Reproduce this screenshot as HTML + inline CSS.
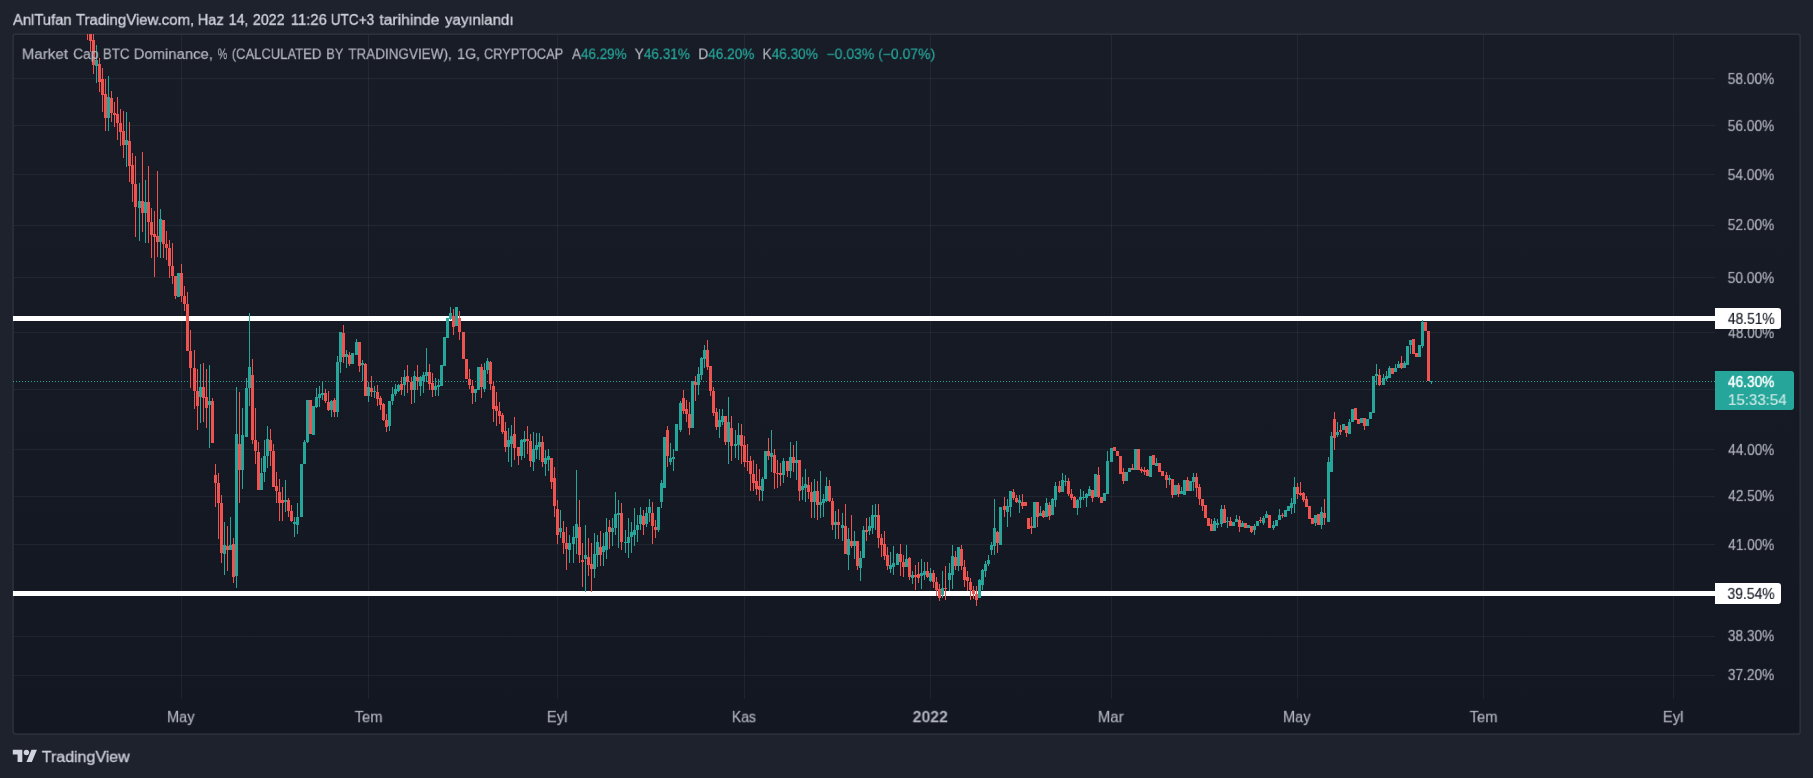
<!DOCTYPE html>
<html lang="tr"><head><meta charset="utf-8"><title>BTC Dominance</title>
<style>html,body{margin:0;padding:0;}
body{width:1813px;height:778px;background:#1e222d;position:relative;overflow:hidden;font-family:"Liberation Sans",sans-serif;}
.t{will-change:transform;position:absolute;white-space:nowrap;transform-origin:0 0;line-height:1;font-size:16px;margin:0;padding:0;}
svg{position:absolute;left:0;top:0;}</style></head><body>
<svg width="1813" height="778" viewBox="0 0 1813 778"><defs><linearGradient id="bg" x1="0" y1="0" x2="0" y2="1"><stop offset="0" stop-color="#181c27"/><stop offset="1" stop-color="#131722"/></linearGradient></defs><rect x="13.1" y="34.1" width="1787.1" height="700" rx="2.5" fill="url(#bg)" stroke="#2b2f3a" stroke-width="1.75"/></svg>
<svg width="1813" height="778" viewBox="0 0 1813 778" shape-rendering="crispEdges">
<rect x="14" y="78" width="1701" height="1" fill="#f0f3fa" fill-opacity="0.06"/>
<rect x="14" y="125" width="1701" height="1" fill="#f0f3fa" fill-opacity="0.06"/>
<rect x="14" y="174" width="1701" height="1" fill="#f0f3fa" fill-opacity="0.06"/>
<rect x="14" y="225" width="1701" height="1" fill="#f0f3fa" fill-opacity="0.06"/>
<rect x="14" y="277" width="1701" height="1" fill="#f0f3fa" fill-opacity="0.06"/>
<rect x="14" y="332" width="1701" height="1" fill="#f0f3fa" fill-opacity="0.06"/>
<rect x="14" y="389" width="1701" height="1" fill="#f0f3fa" fill-opacity="0.06"/>
<rect x="14" y="449" width="1701" height="1" fill="#f0f3fa" fill-opacity="0.06"/>
<rect x="14" y="496" width="1701" height="1" fill="#f0f3fa" fill-opacity="0.06"/>
<rect x="14" y="544" width="1701" height="1" fill="#f0f3fa" fill-opacity="0.06"/>
<rect x="14" y="636" width="1701" height="1" fill="#f0f3fa" fill-opacity="0.06"/>
<rect x="14" y="675" width="1701" height="1" fill="#f0f3fa" fill-opacity="0.06"/>
<rect x="181" y="35" width="1" height="664" fill="#f0f3fa" fill-opacity="0.06"/>
<rect x="368" y="35" width="1" height="664" fill="#f0f3fa" fill-opacity="0.06"/>
<rect x="557" y="35" width="1" height="664" fill="#f0f3fa" fill-opacity="0.06"/>
<rect x="744" y="35" width="1" height="664" fill="#f0f3fa" fill-opacity="0.06"/>
<rect x="930" y="35" width="1" height="664" fill="#f0f3fa" fill-opacity="0.06"/>
<rect x="1111" y="35" width="1" height="664" fill="#f0f3fa" fill-opacity="0.06"/>
<rect x="1297" y="35" width="1" height="664" fill="#f0f3fa" fill-opacity="0.06"/>
<rect x="1483" y="35" width="1" height="664" fill="#f0f3fa" fill-opacity="0.06"/>
<rect x="1673" y="35" width="1" height="664" fill="#f0f3fa" fill-opacity="0.06"/>
<path d="M13 381h1M16 381h1M19 381h1M22 381h1M25 381h1M28 381h1M31 381h1M34 381h1M37 381h1M40 381h1M43 381h1M46 381h1M49 381h1M52 381h1M55 381h1M58 381h1M61 381h1M64 381h1M67 381h1M70 381h1M73 381h1M76 381h1M79 381h1M82 381h1M85 381h1M88 381h1M91 381h1M94 381h1M97 381h1M100 381h1M103 381h1M106 381h1M109 381h1M112 381h1M115 381h1M118 381h1M121 381h1M124 381h1M127 381h1M130 381h1M133 381h1M136 381h1M139 381h1M142 381h1M145 381h1M148 381h1M151 381h1M154 381h1M157 381h1M160 381h1M163 381h1M166 381h1M169 381h1M172 381h1M175 381h1M178 381h1M181 381h1M184 381h1M187 381h1M190 381h1M193 381h1M196 381h1M199 381h1M202 381h1M205 381h1M208 381h1M211 381h1M214 381h1M217 381h1M220 381h1M223 381h1M226 381h1M229 381h1M232 381h1M235 381h1M238 381h1M241 381h1M244 381h1M247 381h1M250 381h1M253 381h1M256 381h1M259 381h1M262 381h1M265 381h1M268 381h1M271 381h1M274 381h1M277 381h1M280 381h1M283 381h1M286 381h1M289 381h1M292 381h1M295 381h1M298 381h1M301 381h1M304 381h1M307 381h1M310 381h1M313 381h1M316 381h1M319 381h1M322 381h1M325 381h1M328 381h1M331 381h1M334 381h1M337 381h1M340 381h1M343 381h1M346 381h1M349 381h1M352 381h1M355 381h1M358 381h1M361 381h1M364 381h1M367 381h1M370 381h1M373 381h1M376 381h1M379 381h1M382 381h1M385 381h1M388 381h1M391 381h1M394 381h1M397 381h1M400 381h1M403 381h1M406 381h1M409 381h1M412 381h1M415 381h1M418 381h1M421 381h1M424 381h1M427 381h1M430 381h1M433 381h1M436 381h1M439 381h1M442 381h1M445 381h1M448 381h1M451 381h1M454 381h1M457 381h1M460 381h1M463 381h1M466 381h1M469 381h1M472 381h1M475 381h1M478 381h1M481 381h1M484 381h1M487 381h1M490 381h1M493 381h1M496 381h1M499 381h1M502 381h1M505 381h1M508 381h1M511 381h1M514 381h1M517 381h1M520 381h1M523 381h1M526 381h1M529 381h1M532 381h1M535 381h1M538 381h1M541 381h1M544 381h1M547 381h1M550 381h1M553 381h1M556 381h1M559 381h1M562 381h1M565 381h1M568 381h1M571 381h1M574 381h1M577 381h1M580 381h1M583 381h1M586 381h1M589 381h1M592 381h1M595 381h1M598 381h1M601 381h1M604 381h1M607 381h1M610 381h1M613 381h1M616 381h1M619 381h1M622 381h1M625 381h1M628 381h1M631 381h1M634 381h1M637 381h1M640 381h1M643 381h1M646 381h1M649 381h1M652 381h1M655 381h1M658 381h1M661 381h1M664 381h1M667 381h1M670 381h1M673 381h1M676 381h1M679 381h1M682 381h1M685 381h1M688 381h1M691 381h1M694 381h1M697 381h1M700 381h1M703 381h1M706 381h1M709 381h1M712 381h1M715 381h1M718 381h1M721 381h1M724 381h1M727 381h1M730 381h1M733 381h1M736 381h1M739 381h1M742 381h1M745 381h1M748 381h1M751 381h1M754 381h1M757 381h1M760 381h1M763 381h1M766 381h1M769 381h1M772 381h1M775 381h1M778 381h1M781 381h1M784 381h1M787 381h1M790 381h1M793 381h1M796 381h1M799 381h1M802 381h1M805 381h1M808 381h1M811 381h1M814 381h1M817 381h1M820 381h1M823 381h1M826 381h1M829 381h1M832 381h1M835 381h1M838 381h1M841 381h1M844 381h1M847 381h1M850 381h1M853 381h1M856 381h1M859 381h1M862 381h1M865 381h1M868 381h1M871 381h1M874 381h1M877 381h1M880 381h1M883 381h1M886 381h1M889 381h1M892 381h1M895 381h1M898 381h1M901 381h1M904 381h1M907 381h1M910 381h1M913 381h1M916 381h1M919 381h1M922 381h1M925 381h1M928 381h1M931 381h1M934 381h1M937 381h1M940 381h1M943 381h1M946 381h1M949 381h1M952 381h1M955 381h1M958 381h1M961 381h1M964 381h1M967 381h1M970 381h1M973 381h1M976 381h1M979 381h1M982 381h1M985 381h1M988 381h1M991 381h1M994 381h1M997 381h1M1000 381h1M1003 381h1M1006 381h1M1009 381h1M1012 381h1M1015 381h1M1018 381h1M1021 381h1M1024 381h1M1027 381h1M1030 381h1M1033 381h1M1036 381h1M1039 381h1M1042 381h1M1045 381h1M1048 381h1M1051 381h1M1054 381h1M1057 381h1M1060 381h1M1063 381h1M1066 381h1M1069 381h1M1072 381h1M1075 381h1M1078 381h1M1081 381h1M1084 381h1M1087 381h1M1090 381h1M1093 381h1M1096 381h1M1099 381h1M1102 381h1M1105 381h1M1108 381h1M1111 381h1M1114 381h1M1117 381h1M1120 381h1M1123 381h1M1126 381h1M1129 381h1M1132 381h1M1135 381h1M1138 381h1M1141 381h1M1144 381h1M1147 381h1M1150 381h1M1153 381h1M1156 381h1M1159 381h1M1162 381h1M1165 381h1M1168 381h1M1171 381h1M1174 381h1M1177 381h1M1180 381h1M1183 381h1M1186 381h1M1189 381h1M1192 381h1M1195 381h1M1198 381h1M1201 381h1M1204 381h1M1207 381h1M1210 381h1M1213 381h1M1216 381h1M1219 381h1M1222 381h1M1225 381h1M1228 381h1M1231 381h1M1234 381h1M1237 381h1M1240 381h1M1243 381h1M1246 381h1M1249 381h1M1252 381h1M1255 381h1M1258 381h1M1261 381h1M1264 381h1M1267 381h1M1270 381h1M1273 381h1M1276 381h1M1279 381h1M1282 381h1M1285 381h1M1288 381h1M1291 381h1M1294 381h1M1297 381h1M1300 381h1M1303 381h1M1306 381h1M1309 381h1M1312 381h1M1315 381h1M1318 381h1M1321 381h1M1324 381h1M1327 381h1M1330 381h1M1333 381h1M1336 381h1M1339 381h1M1342 381h1M1345 381h1M1348 381h1M1351 381h1M1354 381h1M1357 381h1M1360 381h1M1363 381h1M1366 381h1M1369 381h1M1372 381h1M1375 381h1M1378 381h1M1381 381h1M1384 381h1M1387 381h1M1390 381h1M1393 381h1M1396 381h1M1399 381h1M1402 381h1M1405 381h1M1408 381h1M1411 381h1M1414 381h1M1417 381h1M1420 381h1M1423 381h1M1426 381h1M1429 381h1M1432 381h1M1435 381h1M1438 381h1M1441 381h1M1444 381h1M1447 381h1M1450 381h1M1453 381h1M1456 381h1M1459 381h1M1462 381h1M1465 381h1M1468 381h1M1471 381h1M1474 381h1M1477 381h1M1480 381h1M1483 381h1M1486 381h1M1489 381h1M1492 381h1M1495 381h1M1498 381h1M1501 381h1M1504 381h1M1507 381h1M1510 381h1M1513 381h1M1516 381h1M1519 381h1M1522 381h1M1525 381h1M1528 381h1M1531 381h1M1534 381h1M1537 381h1M1540 381h1M1543 381h1M1546 381h1M1549 381h1M1552 381h1M1555 381h1M1558 381h1M1561 381h1M1564 381h1M1567 381h1M1570 381h1M1573 381h1M1576 381h1M1579 381h1M1582 381h1M1585 381h1M1588 381h1M1591 381h1M1594 381h1M1597 381h1M1600 381h1M1603 381h1M1606 381h1M1609 381h1M1612 381h1M1615 381h1M1618 381h1M1621 381h1M1624 381h1M1627 381h1M1630 381h1M1633 381h1M1636 381h1M1639 381h1M1642 381h1M1645 381h1M1648 381h1M1651 381h1M1654 381h1M1657 381h1M1660 381h1M1663 381h1M1666 381h1M1669 381h1M1672 381h1M1675 381h1M1678 381h1M1681 381h1M1684 381h1M1687 381h1M1690 381h1M1693 381h1M1696 381h1M1699 381h1M1702 381h1M1705 381h1M1708 381h1M1711 381h1M1714 381h1" stroke="#26a69a" stroke-width="1" fill="none" transform="translate(0,0.5)"/>
<rect x="13" y="316" width="1702" height="5" fill="#ffffff"/>
<rect x="13" y="591" width="1702" height="5" fill="#ffffff"/>
<rect x="87" y="34" width="1" height="6" fill="#ef5350"/>
<rect x="90" y="34" width="1" height="18" fill="#ef5350"/>
<rect x="89" y="34" width="3" height="7" fill="#ef5350"/>
<rect x="93" y="34" width="1" height="40" fill="#ef5350"/>
<rect x="92" y="40" width="3" height="25" fill="#ef5350"/>
<rect x="96" y="45" width="1" height="38" fill="#26a69a"/>
<rect x="95" y="60" width="3" height="6" fill="#26a69a"/>
<rect x="99" y="58" width="1" height="34" fill="#ef5350"/>
<rect x="98" y="64" width="3" height="18" fill="#ef5350"/>
<rect x="102" y="68" width="1" height="44" fill="#ef5350"/>
<rect x="101" y="79" width="3" height="16" fill="#ef5350"/>
<rect x="105" y="79" width="1" height="52" fill="#ef5350"/>
<rect x="104" y="94" width="3" height="24" fill="#ef5350"/>
<rect x="108" y="76" width="1" height="55" fill="#26a69a"/>
<rect x="107" y="97" width="3" height="21" fill="#26a69a"/>
<rect x="111" y="91" width="1" height="31" fill="#ef5350"/>
<rect x="110" y="98" width="3" height="15" fill="#ef5350"/>
<rect x="114" y="102" width="1" height="25" fill="#ef5350"/>
<rect x="113" y="113" width="3" height="2" fill="#ef5350"/>
<rect x="117" y="97" width="1" height="43" fill="#ef5350"/>
<rect x="116" y="114" width="3" height="9" fill="#ef5350"/>
<rect x="120" y="109" width="1" height="37" fill="#ef5350"/>
<rect x="119" y="123" width="3" height="9" fill="#ef5350"/>
<rect x="123" y="111" width="1" height="47" fill="#ef5350"/>
<rect x="122" y="131" width="3" height="14" fill="#ef5350"/>
<rect x="126" y="112" width="1" height="55" fill="#26a69a"/>
<rect x="125" y="140" width="3" height="5" fill="#26a69a"/>
<rect x="129" y="122" width="1" height="60" fill="#ef5350"/>
<rect x="128" y="141" width="3" height="25" fill="#ef5350"/>
<rect x="132" y="153" width="1" height="49" fill="#ef5350"/>
<rect x="131" y="165" width="3" height="19" fill="#ef5350"/>
<rect x="135" y="156" width="1" height="81" fill="#ef5350"/>
<rect x="134" y="184" width="3" height="23" fill="#ef5350"/>
<rect x="139" y="183" width="1" height="58" fill="#26a69a"/>
<rect x="138" y="201" width="3" height="7" fill="#26a69a"/>
<rect x="142" y="152" width="1" height="80" fill="#ef5350"/>
<rect x="141" y="201" width="3" height="12" fill="#ef5350"/>
<rect x="145" y="180" width="1" height="63" fill="#26a69a"/>
<rect x="144" y="202" width="3" height="11" fill="#26a69a"/>
<rect x="148" y="166" width="1" height="77" fill="#ef5350"/>
<rect x="147" y="202" width="3" height="20" fill="#ef5350"/>
<rect x="151" y="208" width="1" height="50" fill="#ef5350"/>
<rect x="150" y="222" width="3" height="13" fill="#ef5350"/>
<rect x="154" y="211" width="1" height="66" fill="#ef5350"/>
<rect x="153" y="234" width="3" height="3" fill="#ef5350"/>
<rect x="157" y="171" width="1" height="86" fill="#ef5350"/>
<rect x="156" y="236" width="3" height="6" fill="#ef5350"/>
<rect x="160" y="209" width="1" height="49" fill="#26a69a"/>
<rect x="159" y="219" width="3" height="23" fill="#26a69a"/>
<rect x="163" y="220" width="1" height="38" fill="#ef5350"/>
<rect x="162" y="220" width="3" height="24" fill="#ef5350"/>
<rect x="166" y="231" width="1" height="29" fill="#ef5350"/>
<rect x="165" y="244" width="3" height="4" fill="#ef5350"/>
<rect x="169" y="240" width="1" height="38" fill="#ef5350"/>
<rect x="168" y="248" width="3" height="18" fill="#ef5350"/>
<rect x="172" y="243" width="1" height="41" fill="#ef5350"/>
<rect x="171" y="266" width="3" height="10" fill="#ef5350"/>
<rect x="175" y="276" width="1" height="23" fill="#ef5350"/>
<rect x="174" y="276" width="3" height="20" fill="#ef5350"/>
<rect x="178" y="273" width="1" height="24" fill="#26a69a"/>
<rect x="177" y="273" width="3" height="24" fill="#26a69a"/>
<rect x="181" y="264" width="1" height="38" fill="#ef5350"/>
<rect x="180" y="273" width="3" height="23" fill="#ef5350"/>
<rect x="184" y="286" width="1" height="25" fill="#ef5350"/>
<rect x="183" y="296" width="3" height="8" fill="#ef5350"/>
<rect x="187" y="292" width="1" height="59" fill="#ef5350"/>
<rect x="186" y="304" width="3" height="47" fill="#ef5350"/>
<rect x="190" y="330" width="1" height="58" fill="#ef5350"/>
<rect x="189" y="351" width="3" height="17" fill="#ef5350"/>
<rect x="194" y="350" width="1" height="59" fill="#ef5350"/>
<rect x="193" y="368" width="3" height="23" fill="#ef5350"/>
<rect x="197" y="369" width="1" height="61" fill="#ef5350"/>
<rect x="196" y="391" width="3" height="15" fill="#ef5350"/>
<rect x="200" y="364" width="1" height="59" fill="#26a69a"/>
<rect x="199" y="387" width="3" height="10" fill="#26a69a"/>
<rect x="203" y="363" width="1" height="59" fill="#ef5350"/>
<rect x="202" y="387" width="3" height="11" fill="#ef5350"/>
<rect x="206" y="369" width="1" height="59" fill="#ef5350"/>
<rect x="205" y="397" width="3" height="11" fill="#ef5350"/>
<rect x="209" y="365" width="1" height="83" fill="#26a69a"/>
<rect x="208" y="401" width="3" height="4" fill="#26a69a"/>
<rect x="212" y="398" width="1" height="45" fill="#ef5350"/>
<rect x="211" y="401" width="3" height="42" fill="#ef5350"/>
<rect x="215" y="464" width="1" height="43" fill="#ef5350"/>
<rect x="214" y="475" width="3" height="8" fill="#ef5350"/>
<rect x="218" y="473" width="1" height="66" fill="#ef5350"/>
<rect x="217" y="483" width="3" height="20" fill="#ef5350"/>
<rect x="221" y="495" width="1" height="68" fill="#ef5350"/>
<rect x="220" y="503" width="3" height="50" fill="#ef5350"/>
<rect x="224" y="522" width="1" height="53" fill="#26a69a"/>
<rect x="223" y="545" width="3" height="9" fill="#26a69a"/>
<rect x="227" y="526" width="1" height="45" fill="#ef5350"/>
<rect x="226" y="546" width="3" height="4" fill="#ef5350"/>
<rect x="230" y="517" width="1" height="33" fill="#26a69a"/>
<rect x="229" y="545" width="3" height="5" fill="#26a69a"/>
<rect x="233" y="538" width="1" height="45" fill="#ef5350"/>
<rect x="232" y="544" width="3" height="33" fill="#ef5350"/>
<rect x="236" y="387" width="1" height="201" fill="#26a69a"/>
<rect x="235" y="434" width="3" height="142" fill="#26a69a"/>
<rect x="239" y="392" width="1" height="111" fill="#ef5350"/>
<rect x="238" y="444" width="3" height="26" fill="#ef5350"/>
<rect x="242" y="408" width="1" height="81" fill="#26a69a"/>
<rect x="241" y="435" width="3" height="35" fill="#26a69a"/>
<rect x="246" y="378" width="1" height="59" fill="#26a69a"/>
<rect x="245" y="388" width="3" height="49" fill="#26a69a"/>
<rect x="249" y="313" width="1" height="93" fill="#26a69a"/>
<rect x="248" y="367" width="3" height="21" fill="#26a69a"/>
<rect x="252" y="359" width="1" height="85" fill="#ef5350"/>
<rect x="251" y="375" width="3" height="65" fill="#ef5350"/>
<rect x="255" y="408" width="1" height="56" fill="#ef5350"/>
<rect x="254" y="440" width="3" height="11" fill="#ef5350"/>
<rect x="258" y="442" width="1" height="48" fill="#ef5350"/>
<rect x="257" y="452" width="3" height="38" fill="#ef5350"/>
<rect x="261" y="458" width="1" height="32" fill="#26a69a"/>
<rect x="260" y="473" width="3" height="17" fill="#26a69a"/>
<rect x="264" y="440" width="1" height="42" fill="#26a69a"/>
<rect x="263" y="456" width="3" height="16" fill="#26a69a"/>
<rect x="267" y="426" width="1" height="42" fill="#26a69a"/>
<rect x="266" y="439" width="3" height="17" fill="#26a69a"/>
<rect x="270" y="429" width="1" height="37" fill="#ef5350"/>
<rect x="269" y="440" width="3" height="11" fill="#ef5350"/>
<rect x="273" y="444" width="1" height="43" fill="#ef5350"/>
<rect x="272" y="451" width="3" height="36" fill="#ef5350"/>
<rect x="276" y="472" width="1" height="31" fill="#ef5350"/>
<rect x="275" y="486" width="3" height="5" fill="#ef5350"/>
<rect x="279" y="479" width="1" height="42" fill="#ef5350"/>
<rect x="278" y="492" width="3" height="11" fill="#ef5350"/>
<rect x="282" y="487" width="1" height="34" fill="#ef5350"/>
<rect x="281" y="500" width="3" height="3" fill="#ef5350"/>
<rect x="285" y="480" width="1" height="32" fill="#26a69a"/>
<rect x="284" y="500" width="3" height="2" fill="#26a69a"/>
<rect x="288" y="498" width="1" height="19" fill="#ef5350"/>
<rect x="287" y="500" width="3" height="11" fill="#ef5350"/>
<rect x="291" y="505" width="1" height="17" fill="#ef5350"/>
<rect x="290" y="511" width="3" height="10" fill="#ef5350"/>
<rect x="294" y="517" width="1" height="20" fill="#26a69a"/>
<rect x="293" y="522" width="3" height="2" fill="#26a69a"/>
<rect x="297" y="503" width="1" height="31" fill="#26a69a"/>
<rect x="296" y="517" width="3" height="8" fill="#26a69a"/>
<rect x="301" y="464" width="1" height="53" fill="#26a69a"/>
<rect x="300" y="464" width="3" height="53" fill="#26a69a"/>
<rect x="304" y="440" width="1" height="24" fill="#26a69a"/>
<rect x="303" y="442" width="3" height="22" fill="#26a69a"/>
<rect x="307" y="400" width="1" height="43" fill="#26a69a"/>
<rect x="306" y="400" width="3" height="42" fill="#26a69a"/>
<rect x="310" y="400" width="1" height="34" fill="#ef5350"/>
<rect x="309" y="400" width="3" height="34" fill="#ef5350"/>
<rect x="313" y="406" width="1" height="29" fill="#26a69a"/>
<rect x="312" y="406" width="3" height="29" fill="#26a69a"/>
<rect x="316" y="388" width="1" height="20" fill="#26a69a"/>
<rect x="315" y="397" width="3" height="10" fill="#26a69a"/>
<rect x="319" y="386" width="1" height="21" fill="#26a69a"/>
<rect x="318" y="394" width="3" height="4" fill="#26a69a"/>
<rect x="322" y="381" width="1" height="19" fill="#26a69a"/>
<rect x="321" y="393" width="3" height="2" fill="#26a69a"/>
<rect x="325" y="389" width="1" height="14" fill="#ef5350"/>
<rect x="324" y="393" width="3" height="8" fill="#ef5350"/>
<rect x="328" y="391" width="1" height="20" fill="#ef5350"/>
<rect x="327" y="402" width="3" height="8" fill="#ef5350"/>
<rect x="331" y="400" width="1" height="17" fill="#26a69a"/>
<rect x="330" y="401" width="3" height="9" fill="#26a69a"/>
<rect x="334" y="398" width="1" height="19" fill="#ef5350"/>
<rect x="333" y="400" width="3" height="12" fill="#ef5350"/>
<rect x="337" y="356" width="1" height="61" fill="#26a69a"/>
<rect x="336" y="362" width="3" height="50" fill="#26a69a"/>
<rect x="340" y="332" width="1" height="41" fill="#26a69a"/>
<rect x="339" y="332" width="3" height="30" fill="#26a69a"/>
<rect x="343" y="325" width="1" height="38" fill="#ef5350"/>
<rect x="342" y="333" width="3" height="24" fill="#ef5350"/>
<rect x="346" y="350" width="1" height="18" fill="#26a69a"/>
<rect x="345" y="354" width="3" height="3" fill="#26a69a"/>
<rect x="349" y="352" width="1" height="14" fill="#ef5350"/>
<rect x="348" y="355" width="3" height="9" fill="#ef5350"/>
<rect x="352" y="353" width="1" height="11" fill="#26a69a"/>
<rect x="351" y="353" width="3" height="11" fill="#26a69a"/>
<rect x="356" y="339" width="1" height="16" fill="#26a69a"/>
<rect x="355" y="342" width="3" height="13" fill="#26a69a"/>
<rect x="359" y="342" width="1" height="30" fill="#ef5350"/>
<rect x="358" y="342" width="3" height="24" fill="#ef5350"/>
<rect x="362" y="360" width="1" height="21" fill="#26a69a"/>
<rect x="361" y="363" width="3" height="2" fill="#26a69a"/>
<rect x="365" y="363" width="1" height="33" fill="#ef5350"/>
<rect x="364" y="364" width="3" height="32" fill="#ef5350"/>
<rect x="368" y="382" width="1" height="20" fill="#26a69a"/>
<rect x="367" y="387" width="3" height="9" fill="#26a69a"/>
<rect x="371" y="376" width="1" height="21" fill="#ef5350"/>
<rect x="370" y="388" width="3" height="4" fill="#ef5350"/>
<rect x="374" y="386" width="1" height="12" fill="#26a69a"/>
<rect x="373" y="391" width="3" height="1" fill="#26a69a"/>
<rect x="377" y="385" width="1" height="21" fill="#ef5350"/>
<rect x="376" y="392" width="3" height="7" fill="#ef5350"/>
<rect x="380" y="396" width="1" height="14" fill="#ef5350"/>
<rect x="379" y="398" width="3" height="7" fill="#ef5350"/>
<rect x="383" y="403" width="1" height="18" fill="#ef5350"/>
<rect x="382" y="404" width="3" height="16" fill="#ef5350"/>
<rect x="386" y="414" width="1" height="18" fill="#ef5350"/>
<rect x="385" y="420" width="3" height="7" fill="#ef5350"/>
<rect x="389" y="401" width="1" height="30" fill="#26a69a"/>
<rect x="388" y="401" width="3" height="25" fill="#26a69a"/>
<rect x="392" y="387" width="1" height="18" fill="#26a69a"/>
<rect x="391" y="394" width="3" height="7" fill="#26a69a"/>
<rect x="395" y="384" width="1" height="12" fill="#26a69a"/>
<rect x="394" y="389" width="3" height="5" fill="#26a69a"/>
<rect x="398" y="384" width="1" height="8" fill="#26a69a"/>
<rect x="397" y="385" width="3" height="6" fill="#26a69a"/>
<rect x="401" y="377" width="1" height="18" fill="#ef5350"/>
<rect x="400" y="384" width="3" height="6" fill="#ef5350"/>
<rect x="404" y="370" width="1" height="26" fill="#26a69a"/>
<rect x="403" y="377" width="3" height="8" fill="#26a69a"/>
<rect x="407" y="365" width="1" height="28" fill="#ef5350"/>
<rect x="406" y="376" width="3" height="6" fill="#ef5350"/>
<rect x="411" y="377" width="1" height="27" fill="#ef5350"/>
<rect x="410" y="382" width="3" height="8" fill="#ef5350"/>
<rect x="414" y="371" width="1" height="32" fill="#26a69a"/>
<rect x="413" y="376" width="3" height="14" fill="#26a69a"/>
<rect x="417" y="365" width="1" height="25" fill="#ef5350"/>
<rect x="416" y="377" width="3" height="4" fill="#ef5350"/>
<rect x="420" y="376" width="1" height="20" fill="#26a69a"/>
<rect x="419" y="377" width="3" height="9" fill="#26a69a"/>
<rect x="423" y="372" width="1" height="21" fill="#26a69a"/>
<rect x="422" y="375" width="3" height="6" fill="#26a69a"/>
<rect x="426" y="348" width="1" height="34" fill="#26a69a"/>
<rect x="425" y="372" width="3" height="4" fill="#26a69a"/>
<rect x="429" y="364" width="1" height="26" fill="#ef5350"/>
<rect x="428" y="372" width="3" height="12" fill="#ef5350"/>
<rect x="432" y="373" width="1" height="24" fill="#ef5350"/>
<rect x="431" y="383" width="3" height="7" fill="#ef5350"/>
<rect x="435" y="378" width="1" height="18" fill="#26a69a"/>
<rect x="434" y="386" width="3" height="4" fill="#26a69a"/>
<rect x="438" y="379" width="1" height="17" fill="#26a69a"/>
<rect x="437" y="385" width="3" height="2" fill="#26a69a"/>
<rect x="441" y="365" width="1" height="21" fill="#26a69a"/>
<rect x="440" y="365" width="3" height="21" fill="#26a69a"/>
<rect x="444" y="337" width="1" height="29" fill="#26a69a"/>
<rect x="443" y="337" width="3" height="29" fill="#26a69a"/>
<rect x="447" y="318" width="1" height="20" fill="#26a69a"/>
<rect x="446" y="318" width="3" height="20" fill="#26a69a"/>
<rect x="450" y="307" width="1" height="13" fill="#26a69a"/>
<rect x="449" y="313" width="3" height="6" fill="#26a69a"/>
<rect x="453" y="309" width="1" height="26" fill="#ef5350"/>
<rect x="452" y="316" width="3" height="11" fill="#ef5350"/>
<rect x="456" y="307" width="1" height="19" fill="#26a69a"/>
<rect x="455" y="307" width="3" height="19" fill="#26a69a"/>
<rect x="459" y="311" width="1" height="29" fill="#ef5350"/>
<rect x="458" y="318" width="3" height="14" fill="#ef5350"/>
<rect x="463" y="332" width="1" height="27" fill="#ef5350"/>
<rect x="462" y="332" width="3" height="27" fill="#ef5350"/>
<rect x="466" y="359" width="1" height="20" fill="#ef5350"/>
<rect x="465" y="359" width="3" height="20" fill="#ef5350"/>
<rect x="469" y="369" width="1" height="20" fill="#ef5350"/>
<rect x="468" y="379" width="3" height="6" fill="#ef5350"/>
<rect x="472" y="380" width="1" height="24" fill="#ef5350"/>
<rect x="471" y="386" width="3" height="7" fill="#ef5350"/>
<rect x="475" y="389" width="1" height="13" fill="#26a69a"/>
<rect x="474" y="389" width="3" height="4" fill="#26a69a"/>
<rect x="478" y="367" width="1" height="23" fill="#26a69a"/>
<rect x="477" y="367" width="3" height="23" fill="#26a69a"/>
<rect x="481" y="364" width="1" height="34" fill="#ef5350"/>
<rect x="480" y="367" width="3" height="20" fill="#ef5350"/>
<rect x="484" y="363" width="1" height="29" fill="#26a69a"/>
<rect x="483" y="370" width="3" height="19" fill="#26a69a"/>
<rect x="487" y="358" width="1" height="16" fill="#26a69a"/>
<rect x="486" y="361" width="3" height="9" fill="#26a69a"/>
<rect x="490" y="361" width="1" height="29" fill="#ef5350"/>
<rect x="489" y="362" width="3" height="22" fill="#ef5350"/>
<rect x="493" y="381" width="1" height="41" fill="#ef5350"/>
<rect x="492" y="386" width="3" height="23" fill="#ef5350"/>
<rect x="496" y="392" width="1" height="34" fill="#ef5350"/>
<rect x="495" y="406" width="3" height="5" fill="#ef5350"/>
<rect x="499" y="402" width="1" height="22" fill="#ef5350"/>
<rect x="498" y="411" width="3" height="5" fill="#ef5350"/>
<rect x="502" y="413" width="1" height="21" fill="#ef5350"/>
<rect x="501" y="415" width="3" height="17" fill="#ef5350"/>
<rect x="505" y="422" width="1" height="30" fill="#ef5350"/>
<rect x="504" y="431" width="3" height="16" fill="#ef5350"/>
<rect x="508" y="428" width="1" height="34" fill="#26a69a"/>
<rect x="507" y="440" width="3" height="7" fill="#26a69a"/>
<rect x="511" y="425" width="1" height="42" fill="#26a69a"/>
<rect x="510" y="436" width="3" height="8" fill="#26a69a"/>
<rect x="514" y="417" width="1" height="43" fill="#ef5350"/>
<rect x="513" y="434" width="3" height="14" fill="#ef5350"/>
<rect x="518" y="447" width="1" height="18" fill="#ef5350"/>
<rect x="517" y="447" width="3" height="9" fill="#ef5350"/>
<rect x="521" y="439" width="1" height="21" fill="#26a69a"/>
<rect x="520" y="440" width="3" height="16" fill="#26a69a"/>
<rect x="524" y="431" width="1" height="27" fill="#26a69a"/>
<rect x="523" y="439" width="3" height="3" fill="#26a69a"/>
<rect x="527" y="426" width="1" height="28" fill="#ef5350"/>
<rect x="526" y="439" width="3" height="2" fill="#ef5350"/>
<rect x="530" y="434" width="1" height="33" fill="#ef5350"/>
<rect x="529" y="441" width="3" height="20" fill="#ef5350"/>
<rect x="533" y="432" width="1" height="39" fill="#26a69a"/>
<rect x="532" y="449" width="3" height="13" fill="#26a69a"/>
<rect x="536" y="433" width="1" height="26" fill="#26a69a"/>
<rect x="535" y="445" width="3" height="5" fill="#26a69a"/>
<rect x="539" y="433" width="1" height="27" fill="#26a69a"/>
<rect x="538" y="442" width="3" height="5" fill="#26a69a"/>
<rect x="542" y="436" width="1" height="31" fill="#ef5350"/>
<rect x="541" y="442" width="3" height="20" fill="#ef5350"/>
<rect x="545" y="450" width="1" height="26" fill="#26a69a"/>
<rect x="544" y="458" width="3" height="6" fill="#26a69a"/>
<rect x="548" y="449" width="1" height="22" fill="#26a69a"/>
<rect x="547" y="456" width="3" height="4" fill="#26a69a"/>
<rect x="551" y="458" width="1" height="31" fill="#ef5350"/>
<rect x="550" y="458" width="3" height="24" fill="#ef5350"/>
<rect x="554" y="467" width="1" height="50" fill="#ef5350"/>
<rect x="553" y="478" width="3" height="28" fill="#ef5350"/>
<rect x="557" y="500" width="1" height="44" fill="#ef5350"/>
<rect x="556" y="509" width="3" height="26" fill="#ef5350"/>
<rect x="560" y="510" width="1" height="28" fill="#26a69a"/>
<rect x="559" y="528" width="3" height="4" fill="#26a69a"/>
<rect x="563" y="521" width="1" height="33" fill="#ef5350"/>
<rect x="562" y="532" width="3" height="11" fill="#ef5350"/>
<rect x="566" y="527" width="1" height="43" fill="#ef5350"/>
<rect x="565" y="543" width="3" height="6" fill="#ef5350"/>
<rect x="569" y="535" width="1" height="28" fill="#26a69a"/>
<rect x="568" y="543" width="3" height="7" fill="#26a69a"/>
<rect x="573" y="526" width="1" height="37" fill="#26a69a"/>
<rect x="572" y="537" width="3" height="7" fill="#26a69a"/>
<rect x="576" y="470" width="1" height="84" fill="#26a69a"/>
<rect x="575" y="524" width="3" height="14" fill="#26a69a"/>
<rect x="579" y="500" width="1" height="63" fill="#ef5350"/>
<rect x="578" y="527" width="3" height="28" fill="#ef5350"/>
<rect x="582" y="543" width="1" height="44" fill="#ef5350"/>
<rect x="581" y="560" width="3" height="2" fill="#ef5350"/>
<rect x="585" y="525" width="1" height="67" fill="#26a69a"/>
<rect x="584" y="555" width="3" height="4" fill="#26a69a"/>
<rect x="588" y="538" width="1" height="38" fill="#ef5350"/>
<rect x="587" y="557" width="3" height="8" fill="#ef5350"/>
<rect x="591" y="543" width="1" height="49" fill="#ef5350"/>
<rect x="590" y="564" width="3" height="5" fill="#ef5350"/>
<rect x="594" y="533" width="1" height="45" fill="#26a69a"/>
<rect x="593" y="554" width="3" height="15" fill="#26a69a"/>
<rect x="597" y="535" width="1" height="32" fill="#26a69a"/>
<rect x="596" y="542" width="3" height="13" fill="#26a69a"/>
<rect x="600" y="531" width="1" height="35" fill="#ef5350"/>
<rect x="599" y="547" width="3" height="8" fill="#ef5350"/>
<rect x="603" y="533" width="1" height="33" fill="#26a69a"/>
<rect x="602" y="546" width="3" height="6" fill="#26a69a"/>
<rect x="606" y="518" width="1" height="41" fill="#26a69a"/>
<rect x="605" y="532" width="3" height="18" fill="#26a69a"/>
<rect x="609" y="520" width="1" height="29" fill="#ef5350"/>
<rect x="608" y="527" width="3" height="5" fill="#ef5350"/>
<rect x="612" y="518" width="1" height="28" fill="#26a69a"/>
<rect x="611" y="528" width="3" height="4" fill="#26a69a"/>
<rect x="615" y="492" width="1" height="43" fill="#26a69a"/>
<rect x="614" y="514" width="3" height="14" fill="#26a69a"/>
<rect x="618" y="500" width="1" height="48" fill="#26a69a"/>
<rect x="617" y="513" width="3" height="2" fill="#26a69a"/>
<rect x="621" y="503" width="1" height="47" fill="#ef5350"/>
<rect x="620" y="513" width="3" height="29" fill="#ef5350"/>
<rect x="625" y="530" width="1" height="23" fill="#26a69a"/>
<rect x="624" y="542" width="3" height="1" fill="#26a69a"/>
<rect x="628" y="518" width="1" height="40" fill="#26a69a"/>
<rect x="627" y="537" width="3" height="6" fill="#26a69a"/>
<rect x="631" y="522" width="1" height="31" fill="#26a69a"/>
<rect x="630" y="532" width="3" height="5" fill="#26a69a"/>
<rect x="634" y="508" width="1" height="38" fill="#26a69a"/>
<rect x="633" y="530" width="3" height="5" fill="#26a69a"/>
<rect x="637" y="515" width="1" height="27" fill="#26a69a"/>
<rect x="636" y="525" width="3" height="5" fill="#26a69a"/>
<rect x="640" y="507" width="1" height="23" fill="#26a69a"/>
<rect x="639" y="515" width="3" height="9" fill="#26a69a"/>
<rect x="643" y="510" width="1" height="25" fill="#ef5350"/>
<rect x="642" y="516" width="3" height="9" fill="#ef5350"/>
<rect x="646" y="507" width="1" height="20" fill="#26a69a"/>
<rect x="645" y="513" width="3" height="11" fill="#26a69a"/>
<rect x="649" y="499" width="1" height="23" fill="#26a69a"/>
<rect x="648" y="507" width="3" height="6" fill="#26a69a"/>
<rect x="652" y="502" width="1" height="42" fill="#ef5350"/>
<rect x="651" y="513" width="3" height="13" fill="#ef5350"/>
<rect x="655" y="520" width="1" height="18" fill="#ef5350"/>
<rect x="654" y="527" width="3" height="3" fill="#ef5350"/>
<rect x="658" y="507" width="1" height="25" fill="#26a69a"/>
<rect x="657" y="507" width="3" height="23" fill="#26a69a"/>
<rect x="661" y="480" width="1" height="28" fill="#26a69a"/>
<rect x="660" y="483" width="3" height="19" fill="#26a69a"/>
<rect x="664" y="437" width="1" height="51" fill="#26a69a"/>
<rect x="663" y="437" width="3" height="51" fill="#26a69a"/>
<rect x="667" y="426" width="1" height="41" fill="#ef5350"/>
<rect x="666" y="430" width="3" height="26" fill="#ef5350"/>
<rect x="670" y="443" width="1" height="22" fill="#26a69a"/>
<rect x="669" y="458" width="3" height="4" fill="#26a69a"/>
<rect x="673" y="449" width="1" height="22" fill="#26a69a"/>
<rect x="672" y="457" width="3" height="2" fill="#26a69a"/>
<rect x="676" y="424" width="1" height="27" fill="#26a69a"/>
<rect x="675" y="424" width="3" height="27" fill="#26a69a"/>
<rect x="680" y="401" width="1" height="31" fill="#26a69a"/>
<rect x="679" y="403" width="3" height="27" fill="#26a69a"/>
<rect x="683" y="390" width="1" height="24" fill="#ef5350"/>
<rect x="682" y="398" width="3" height="13" fill="#ef5350"/>
<rect x="686" y="400" width="1" height="22" fill="#ef5350"/>
<rect x="685" y="409" width="3" height="5" fill="#ef5350"/>
<rect x="689" y="402" width="1" height="33" fill="#ef5350"/>
<rect x="688" y="414" width="3" height="14" fill="#ef5350"/>
<rect x="692" y="381" width="1" height="47" fill="#26a69a"/>
<rect x="691" y="381" width="3" height="47" fill="#26a69a"/>
<rect x="695" y="376" width="1" height="25" fill="#ef5350"/>
<rect x="694" y="382" width="3" height="3" fill="#ef5350"/>
<rect x="698" y="367" width="1" height="28" fill="#26a69a"/>
<rect x="697" y="374" width="3" height="11" fill="#26a69a"/>
<rect x="701" y="357" width="1" height="23" fill="#26a69a"/>
<rect x="700" y="358" width="3" height="17" fill="#26a69a"/>
<rect x="704" y="345" width="1" height="23" fill="#26a69a"/>
<rect x="703" y="350" width="3" height="9" fill="#26a69a"/>
<rect x="707" y="340" width="1" height="30" fill="#ef5350"/>
<rect x="706" y="350" width="3" height="17" fill="#ef5350"/>
<rect x="710" y="366" width="1" height="30" fill="#ef5350"/>
<rect x="709" y="366" width="3" height="25" fill="#ef5350"/>
<rect x="713" y="387" width="1" height="29" fill="#ef5350"/>
<rect x="712" y="391" width="3" height="22" fill="#ef5350"/>
<rect x="716" y="408" width="1" height="22" fill="#ef5350"/>
<rect x="715" y="412" width="3" height="15" fill="#ef5350"/>
<rect x="719" y="409" width="1" height="29" fill="#26a69a"/>
<rect x="718" y="420" width="3" height="7" fill="#26a69a"/>
<rect x="722" y="409" width="1" height="16" fill="#26a69a"/>
<rect x="721" y="416" width="3" height="6" fill="#26a69a"/>
<rect x="725" y="416" width="1" height="29" fill="#ef5350"/>
<rect x="724" y="416" width="3" height="26" fill="#ef5350"/>
<rect x="728" y="397" width="1" height="67" fill="#26a69a"/>
<rect x="727" y="422" width="3" height="20" fill="#26a69a"/>
<rect x="731" y="416" width="1" height="45" fill="#ef5350"/>
<rect x="730" y="428" width="3" height="18" fill="#ef5350"/>
<rect x="735" y="430" width="1" height="28" fill="#26a69a"/>
<rect x="734" y="444" width="3" height="2" fill="#26a69a"/>
<rect x="738" y="423" width="1" height="37" fill="#26a69a"/>
<rect x="737" y="435" width="3" height="10" fill="#26a69a"/>
<rect x="741" y="424" width="1" height="40" fill="#ef5350"/>
<rect x="740" y="435" width="3" height="11" fill="#ef5350"/>
<rect x="744" y="436" width="1" height="31" fill="#ef5350"/>
<rect x="743" y="445" width="3" height="17" fill="#ef5350"/>
<rect x="747" y="444" width="1" height="27" fill="#ef5350"/>
<rect x="746" y="461" width="3" height="1" fill="#ef5350"/>
<rect x="750" y="456" width="1" height="35" fill="#ef5350"/>
<rect x="749" y="461" width="3" height="13" fill="#ef5350"/>
<rect x="753" y="460" width="1" height="31" fill="#ef5350"/>
<rect x="752" y="474" width="3" height="9" fill="#ef5350"/>
<rect x="756" y="464" width="1" height="31" fill="#ef5350"/>
<rect x="755" y="481" width="3" height="8" fill="#ef5350"/>
<rect x="759" y="469" width="1" height="32" fill="#ef5350"/>
<rect x="758" y="486" width="3" height="4" fill="#ef5350"/>
<rect x="762" y="477" width="1" height="24" fill="#26a69a"/>
<rect x="761" y="479" width="3" height="12" fill="#26a69a"/>
<rect x="765" y="451" width="1" height="28" fill="#26a69a"/>
<rect x="764" y="451" width="3" height="28" fill="#26a69a"/>
<rect x="768" y="438" width="1" height="22" fill="#ef5350"/>
<rect x="767" y="451" width="3" height="5" fill="#ef5350"/>
<rect x="771" y="430" width="1" height="42" fill="#26a69a"/>
<rect x="770" y="453" width="3" height="4" fill="#26a69a"/>
<rect x="774" y="449" width="1" height="40" fill="#ef5350"/>
<rect x="773" y="455" width="3" height="18" fill="#ef5350"/>
<rect x="777" y="460" width="1" height="28" fill="#ef5350"/>
<rect x="776" y="473" width="3" height="1" fill="#ef5350"/>
<rect x="780" y="463" width="1" height="23" fill="#ef5350"/>
<rect x="779" y="473" width="3" height="2" fill="#ef5350"/>
<rect x="783" y="458" width="1" height="25" fill="#26a69a"/>
<rect x="782" y="461" width="3" height="14" fill="#26a69a"/>
<rect x="787" y="461" width="1" height="16" fill="#ef5350"/>
<rect x="786" y="461" width="3" height="10" fill="#ef5350"/>
<rect x="790" y="442" width="1" height="36" fill="#26a69a"/>
<rect x="789" y="457" width="3" height="14" fill="#26a69a"/>
<rect x="793" y="445" width="1" height="27" fill="#ef5350"/>
<rect x="792" y="457" width="3" height="6" fill="#ef5350"/>
<rect x="796" y="441" width="1" height="39" fill="#26a69a"/>
<rect x="795" y="460" width="3" height="3" fill="#26a69a"/>
<rect x="799" y="460" width="1" height="41" fill="#ef5350"/>
<rect x="798" y="460" width="3" height="31" fill="#ef5350"/>
<rect x="802" y="477" width="1" height="23" fill="#26a69a"/>
<rect x="801" y="486" width="3" height="4" fill="#26a69a"/>
<rect x="805" y="469" width="1" height="33" fill="#26a69a"/>
<rect x="804" y="484" width="3" height="4" fill="#26a69a"/>
<rect x="808" y="477" width="1" height="22" fill="#ef5350"/>
<rect x="807" y="485" width="3" height="7" fill="#ef5350"/>
<rect x="811" y="482" width="1" height="36" fill="#ef5350"/>
<rect x="810" y="492" width="3" height="10" fill="#ef5350"/>
<rect x="814" y="479" width="1" height="39" fill="#26a69a"/>
<rect x="813" y="491" width="3" height="11" fill="#26a69a"/>
<rect x="817" y="481" width="1" height="39" fill="#ef5350"/>
<rect x="816" y="491" width="3" height="14" fill="#ef5350"/>
<rect x="820" y="471" width="1" height="47" fill="#26a69a"/>
<rect x="819" y="502" width="3" height="3" fill="#26a69a"/>
<rect x="823" y="494" width="1" height="23" fill="#26a69a"/>
<rect x="822" y="499" width="3" height="4" fill="#26a69a"/>
<rect x="826" y="477" width="1" height="25" fill="#26a69a"/>
<rect x="825" y="486" width="3" height="15" fill="#26a69a"/>
<rect x="829" y="480" width="1" height="22" fill="#ef5350"/>
<rect x="828" y="486" width="3" height="15" fill="#ef5350"/>
<rect x="832" y="498" width="1" height="32" fill="#ef5350"/>
<rect x="831" y="501" width="3" height="24" fill="#ef5350"/>
<rect x="835" y="511" width="1" height="28" fill="#26a69a"/>
<rect x="834" y="522" width="3" height="3" fill="#26a69a"/>
<rect x="838" y="509" width="1" height="30" fill="#ef5350"/>
<rect x="837" y="522" width="3" height="3" fill="#ef5350"/>
<rect x="842" y="513" width="1" height="28" fill="#26a69a"/>
<rect x="841" y="525" width="3" height="3" fill="#26a69a"/>
<rect x="845" y="504" width="1" height="50" fill="#ef5350"/>
<rect x="844" y="526" width="3" height="28" fill="#ef5350"/>
<rect x="848" y="528" width="1" height="42" fill="#26a69a"/>
<rect x="847" y="539" width="3" height="16" fill="#26a69a"/>
<rect x="851" y="515" width="1" height="33" fill="#ef5350"/>
<rect x="850" y="541" width="3" height="5" fill="#ef5350"/>
<rect x="854" y="531" width="1" height="28" fill="#26a69a"/>
<rect x="853" y="541" width="3" height="5" fill="#26a69a"/>
<rect x="857" y="541" width="1" height="29" fill="#ef5350"/>
<rect x="856" y="541" width="3" height="25" fill="#ef5350"/>
<rect x="860" y="551" width="1" height="30" fill="#26a69a"/>
<rect x="859" y="558" width="3" height="10" fill="#26a69a"/>
<rect x="863" y="526" width="1" height="32" fill="#26a69a"/>
<rect x="862" y="530" width="3" height="28" fill="#26a69a"/>
<rect x="866" y="518" width="1" height="23" fill="#ef5350"/>
<rect x="865" y="530" width="3" height="2" fill="#ef5350"/>
<rect x="869" y="517" width="1" height="18" fill="#26a69a"/>
<rect x="868" y="526" width="3" height="5" fill="#26a69a"/>
<rect x="872" y="505" width="1" height="29" fill="#26a69a"/>
<rect x="871" y="515" width="3" height="13" fill="#26a69a"/>
<rect x="875" y="504" width="1" height="26" fill="#26a69a"/>
<rect x="874" y="515" width="3" height="2" fill="#26a69a"/>
<rect x="878" y="504" width="1" height="44" fill="#ef5350"/>
<rect x="877" y="515" width="3" height="23" fill="#ef5350"/>
<rect x="881" y="534" width="1" height="23" fill="#ef5350"/>
<rect x="880" y="538" width="3" height="7" fill="#ef5350"/>
<rect x="884" y="531" width="1" height="29" fill="#ef5350"/>
<rect x="883" y="544" width="3" height="12" fill="#ef5350"/>
<rect x="887" y="547" width="1" height="23" fill="#ef5350"/>
<rect x="886" y="555" width="3" height="11" fill="#ef5350"/>
<rect x="890" y="552" width="1" height="21" fill="#26a69a"/>
<rect x="889" y="565" width="3" height="4" fill="#26a69a"/>
<rect x="893" y="546" width="1" height="29" fill="#26a69a"/>
<rect x="892" y="563" width="3" height="4" fill="#26a69a"/>
<rect x="897" y="553" width="1" height="12" fill="#26a69a"/>
<rect x="896" y="554" width="3" height="11" fill="#26a69a"/>
<rect x="900" y="544" width="1" height="32" fill="#ef5350"/>
<rect x="899" y="554" width="3" height="8" fill="#ef5350"/>
<rect x="903" y="555" width="1" height="22" fill="#ef5350"/>
<rect x="902" y="562" width="3" height="5" fill="#ef5350"/>
<rect x="906" y="545" width="1" height="22" fill="#26a69a"/>
<rect x="905" y="559" width="3" height="8" fill="#26a69a"/>
<rect x="909" y="557" width="1" height="23" fill="#ef5350"/>
<rect x="908" y="558" width="3" height="19" fill="#ef5350"/>
<rect x="912" y="571" width="1" height="13" fill="#26a69a"/>
<rect x="911" y="575" width="3" height="3" fill="#26a69a"/>
<rect x="915" y="565" width="1" height="25" fill="#ef5350"/>
<rect x="914" y="575" width="3" height="2" fill="#ef5350"/>
<rect x="918" y="562" width="1" height="21" fill="#ef5350"/>
<rect x="917" y="574" width="3" height="4" fill="#ef5350"/>
<rect x="921" y="559" width="1" height="30" fill="#26a69a"/>
<rect x="920" y="573" width="3" height="3" fill="#26a69a"/>
<rect x="924" y="562" width="1" height="18" fill="#26a69a"/>
<rect x="923" y="571" width="3" height="4" fill="#26a69a"/>
<rect x="927" y="562" width="1" height="16" fill="#ef5350"/>
<rect x="926" y="571" width="3" height="6" fill="#ef5350"/>
<rect x="930" y="568" width="1" height="14" fill="#26a69a"/>
<rect x="929" y="573" width="3" height="8" fill="#26a69a"/>
<rect x="933" y="570" width="1" height="18" fill="#ef5350"/>
<rect x="932" y="573" width="3" height="9" fill="#ef5350"/>
<rect x="936" y="577" width="1" height="19" fill="#ef5350"/>
<rect x="935" y="582" width="3" height="8" fill="#ef5350"/>
<rect x="939" y="584" width="1" height="17" fill="#ef5350"/>
<rect x="938" y="589" width="3" height="9" fill="#ef5350"/>
<rect x="942" y="571" width="1" height="27" fill="#26a69a"/>
<rect x="941" y="588" width="3" height="7" fill="#26a69a"/>
<rect x="945" y="566" width="1" height="34" fill="#ef5350"/>
<rect x="944" y="588" width="3" height="1" fill="#ef5350"/>
<rect x="949" y="563" width="1" height="28" fill="#26a69a"/>
<rect x="948" y="573" width="3" height="7" fill="#26a69a"/>
<rect x="952" y="545" width="1" height="44" fill="#26a69a"/>
<rect x="951" y="556" width="3" height="19" fill="#26a69a"/>
<rect x="955" y="551" width="1" height="19" fill="#ef5350"/>
<rect x="954" y="557" width="3" height="9" fill="#ef5350"/>
<rect x="958" y="547" width="1" height="24" fill="#26a69a"/>
<rect x="957" y="547" width="3" height="19" fill="#26a69a"/>
<rect x="961" y="545" width="1" height="25" fill="#ef5350"/>
<rect x="960" y="549" width="3" height="17" fill="#ef5350"/>
<rect x="964" y="560" width="1" height="27" fill="#ef5350"/>
<rect x="963" y="567" width="3" height="13" fill="#ef5350"/>
<rect x="967" y="571" width="1" height="20" fill="#ef5350"/>
<rect x="966" y="577" width="3" height="4" fill="#ef5350"/>
<rect x="970" y="578" width="1" height="22" fill="#ef5350"/>
<rect x="969" y="582" width="3" height="8" fill="#ef5350"/>
<rect x="973" y="586" width="1" height="13" fill="#ef5350"/>
<rect x="972" y="590" width="3" height="4" fill="#ef5350"/>
<rect x="976" y="586" width="1" height="20" fill="#ef5350"/>
<rect x="975" y="594" width="3" height="6" fill="#ef5350"/>
<rect x="979" y="579" width="1" height="19" fill="#26a69a"/>
<rect x="978" y="580" width="3" height="18" fill="#26a69a"/>
<rect x="982" y="569" width="1" height="21" fill="#26a69a"/>
<rect x="981" y="570" width="3" height="15" fill="#26a69a"/>
<rect x="985" y="561" width="1" height="16" fill="#26a69a"/>
<rect x="984" y="564" width="3" height="7" fill="#26a69a"/>
<rect x="988" y="555" width="1" height="11" fill="#26a69a"/>
<rect x="987" y="560" width="3" height="4" fill="#26a69a"/>
<rect x="991" y="542" width="1" height="13" fill="#26a69a"/>
<rect x="990" y="545" width="3" height="5" fill="#26a69a"/>
<rect x="994" y="499" width="1" height="56" fill="#26a69a"/>
<rect x="993" y="528" width="3" height="18" fill="#26a69a"/>
<rect x="997" y="531" width="1" height="22" fill="#ef5350"/>
<rect x="996" y="532" width="3" height="11" fill="#ef5350"/>
<rect x="1000" y="507" width="1" height="38" fill="#26a69a"/>
<rect x="999" y="507" width="3" height="38" fill="#26a69a"/>
<rect x="1004" y="497" width="1" height="20" fill="#ef5350"/>
<rect x="1003" y="506" width="3" height="4" fill="#ef5350"/>
<rect x="1007" y="499" width="1" height="28" fill="#26a69a"/>
<rect x="1006" y="506" width="3" height="6" fill="#26a69a"/>
<rect x="1010" y="491" width="1" height="26" fill="#26a69a"/>
<rect x="1009" y="491" width="3" height="16" fill="#26a69a"/>
<rect x="1013" y="489" width="1" height="11" fill="#ef5350"/>
<rect x="1012" y="492" width="3" height="6" fill="#ef5350"/>
<rect x="1016" y="495" width="1" height="8" fill="#ef5350"/>
<rect x="1015" y="498" width="3" height="4" fill="#ef5350"/>
<rect x="1019" y="495" width="1" height="18" fill="#26a69a"/>
<rect x="1018" y="500" width="3" height="3" fill="#26a69a"/>
<rect x="1022" y="494" width="1" height="15" fill="#ef5350"/>
<rect x="1021" y="502" width="3" height="4" fill="#ef5350"/>
<rect x="1025" y="502" width="1" height="4" fill="#ef5350"/>
<rect x="1024" y="502" width="3" height="4" fill="#ef5350"/>
<rect x="1028" y="518" width="1" height="11" fill="#ef5350"/>
<rect x="1027" y="518" width="3" height="11" fill="#ef5350"/>
<rect x="1031" y="517" width="1" height="17" fill="#ef5350"/>
<rect x="1030" y="526" width="3" height="2" fill="#ef5350"/>
<rect x="1034" y="502" width="1" height="26" fill="#26a69a"/>
<rect x="1033" y="502" width="3" height="26" fill="#26a69a"/>
<rect x="1037" y="502" width="1" height="25" fill="#ef5350"/>
<rect x="1036" y="502" width="3" height="15" fill="#ef5350"/>
<rect x="1040" y="506" width="1" height="10" fill="#26a69a"/>
<rect x="1039" y="513" width="3" height="3" fill="#26a69a"/>
<rect x="1043" y="510" width="1" height="8" fill="#ef5350"/>
<rect x="1042" y="511" width="3" height="6" fill="#ef5350"/>
<rect x="1046" y="498" width="1" height="19" fill="#26a69a"/>
<rect x="1045" y="503" width="3" height="14" fill="#26a69a"/>
<rect x="1049" y="502" width="1" height="18" fill="#ef5350"/>
<rect x="1048" y="505" width="3" height="11" fill="#ef5350"/>
<rect x="1052" y="498" width="1" height="17" fill="#26a69a"/>
<rect x="1051" y="499" width="3" height="16" fill="#26a69a"/>
<rect x="1055" y="482" width="1" height="25" fill="#26a69a"/>
<rect x="1054" y="486" width="3" height="14" fill="#26a69a"/>
<rect x="1059" y="481" width="1" height="12" fill="#ef5350"/>
<rect x="1058" y="486" width="3" height="6" fill="#ef5350"/>
<rect x="1062" y="473" width="1" height="19" fill="#26a69a"/>
<rect x="1061" y="480" width="3" height="12" fill="#26a69a"/>
<rect x="1065" y="475" width="1" height="11" fill="#26a69a"/>
<rect x="1064" y="481" width="3" height="1" fill="#26a69a"/>
<rect x="1068" y="478" width="1" height="18" fill="#ef5350"/>
<rect x="1067" y="481" width="3" height="13" fill="#ef5350"/>
<rect x="1071" y="489" width="1" height="11" fill="#ef5350"/>
<rect x="1070" y="494" width="3" height="4" fill="#ef5350"/>
<rect x="1074" y="496" width="1" height="12" fill="#ef5350"/>
<rect x="1073" y="497" width="3" height="11" fill="#ef5350"/>
<rect x="1077" y="499" width="1" height="16" fill="#26a69a"/>
<rect x="1076" y="500" width="3" height="8" fill="#26a69a"/>
<rect x="1080" y="489" width="1" height="19" fill="#26a69a"/>
<rect x="1079" y="497" width="3" height="3" fill="#26a69a"/>
<rect x="1083" y="491" width="1" height="9" fill="#26a69a"/>
<rect x="1082" y="497" width="3" height="1" fill="#26a69a"/>
<rect x="1086" y="493" width="1" height="14" fill="#26a69a"/>
<rect x="1085" y="494" width="3" height="4" fill="#26a69a"/>
<rect x="1089" y="486" width="1" height="10" fill="#26a69a"/>
<rect x="1088" y="489" width="3" height="7" fill="#26a69a"/>
<rect x="1092" y="490" width="1" height="12" fill="#ef5350"/>
<rect x="1091" y="490" width="3" height="8" fill="#ef5350"/>
<rect x="1095" y="474" width="1" height="23" fill="#26a69a"/>
<rect x="1094" y="474" width="3" height="23" fill="#26a69a"/>
<rect x="1098" y="467" width="1" height="31" fill="#ef5350"/>
<rect x="1097" y="475" width="3" height="22" fill="#ef5350"/>
<rect x="1101" y="497" width="1" height="6" fill="#ef5350"/>
<rect x="1100" y="497" width="3" height="6" fill="#ef5350"/>
<rect x="1104" y="493" width="1" height="8" fill="#26a69a"/>
<rect x="1103" y="493" width="3" height="8" fill="#26a69a"/>
<rect x="1107" y="451" width="1" height="43" fill="#26a69a"/>
<rect x="1106" y="461" width="3" height="33" fill="#26a69a"/>
<rect x="1111" y="448" width="1" height="14" fill="#26a69a"/>
<rect x="1110" y="448" width="3" height="14" fill="#26a69a"/>
<rect x="1114" y="447" width="1" height="4" fill="#ef5350"/>
<rect x="1113" y="447" width="3" height="4" fill="#ef5350"/>
<rect x="1117" y="451" width="1" height="5" fill="#ef5350"/>
<rect x="1116" y="451" width="3" height="5" fill="#ef5350"/>
<rect x="1120" y="456" width="1" height="18" fill="#ef5350"/>
<rect x="1119" y="456" width="3" height="18" fill="#ef5350"/>
<rect x="1123" y="468" width="1" height="16" fill="#ef5350"/>
<rect x="1122" y="472" width="3" height="9" fill="#ef5350"/>
<rect x="1126" y="472" width="1" height="9" fill="#26a69a"/>
<rect x="1125" y="472" width="3" height="9" fill="#26a69a"/>
<rect x="1129" y="468" width="1" height="4" fill="#26a69a"/>
<rect x="1128" y="468" width="3" height="4" fill="#26a69a"/>
<rect x="1132" y="464" width="1" height="6" fill="#ef5350"/>
<rect x="1131" y="468" width="3" height="2" fill="#ef5350"/>
<rect x="1135" y="449" width="1" height="21" fill="#26a69a"/>
<rect x="1134" y="449" width="3" height="21" fill="#26a69a"/>
<rect x="1138" y="449" width="1" height="21" fill="#ef5350"/>
<rect x="1137" y="449" width="3" height="21" fill="#ef5350"/>
<rect x="1141" y="467" width="1" height="6" fill="#ef5350"/>
<rect x="1140" y="469" width="3" height="2" fill="#ef5350"/>
<rect x="1144" y="467" width="1" height="8" fill="#ef5350"/>
<rect x="1143" y="470" width="3" height="2" fill="#ef5350"/>
<rect x="1147" y="469" width="1" height="7" fill="#ef5350"/>
<rect x="1146" y="470" width="3" height="6" fill="#ef5350"/>
<rect x="1150" y="456" width="1" height="21" fill="#26a69a"/>
<rect x="1149" y="456" width="3" height="21" fill="#26a69a"/>
<rect x="1153" y="455" width="1" height="10" fill="#ef5350"/>
<rect x="1152" y="455" width="3" height="10" fill="#ef5350"/>
<rect x="1156" y="458" width="1" height="8" fill="#26a69a"/>
<rect x="1155" y="463" width="3" height="3" fill="#26a69a"/>
<rect x="1159" y="463" width="1" height="9" fill="#ef5350"/>
<rect x="1158" y="463" width="3" height="9" fill="#ef5350"/>
<rect x="1162" y="471" width="1" height="5" fill="#ef5350"/>
<rect x="1161" y="471" width="3" height="5" fill="#ef5350"/>
<rect x="1166" y="472" width="1" height="16" fill="#ef5350"/>
<rect x="1165" y="475" width="3" height="5" fill="#ef5350"/>
<rect x="1169" y="475" width="1" height="10" fill="#26a69a"/>
<rect x="1168" y="478" width="3" height="2" fill="#26a69a"/>
<rect x="1172" y="479" width="1" height="19" fill="#ef5350"/>
<rect x="1171" y="479" width="3" height="16" fill="#ef5350"/>
<rect x="1175" y="485" width="1" height="10" fill="#26a69a"/>
<rect x="1174" y="485" width="3" height="10" fill="#26a69a"/>
<rect x="1178" y="483" width="1" height="14" fill="#ef5350"/>
<rect x="1177" y="485" width="3" height="9" fill="#ef5350"/>
<rect x="1181" y="487" width="1" height="7" fill="#26a69a"/>
<rect x="1180" y="491" width="3" height="3" fill="#26a69a"/>
<rect x="1184" y="480" width="1" height="15" fill="#26a69a"/>
<rect x="1183" y="480" width="3" height="15" fill="#26a69a"/>
<rect x="1187" y="477" width="1" height="14" fill="#ef5350"/>
<rect x="1186" y="480" width="3" height="11" fill="#ef5350"/>
<rect x="1190" y="481" width="1" height="10" fill="#26a69a"/>
<rect x="1189" y="481" width="3" height="10" fill="#26a69a"/>
<rect x="1193" y="473" width="1" height="18" fill="#26a69a"/>
<rect x="1192" y="477" width="3" height="5" fill="#26a69a"/>
<rect x="1196" y="473" width="1" height="24" fill="#ef5350"/>
<rect x="1195" y="477" width="3" height="11" fill="#ef5350"/>
<rect x="1199" y="484" width="1" height="21" fill="#ef5350"/>
<rect x="1198" y="487" width="3" height="12" fill="#ef5350"/>
<rect x="1202" y="499" width="1" height="12" fill="#ef5350"/>
<rect x="1201" y="499" width="3" height="7" fill="#ef5350"/>
<rect x="1205" y="505" width="1" height="13" fill="#ef5350"/>
<rect x="1204" y="505" width="3" height="13" fill="#ef5350"/>
<rect x="1208" y="518" width="1" height="8" fill="#ef5350"/>
<rect x="1207" y="518" width="3" height="8" fill="#ef5350"/>
<rect x="1211" y="519" width="1" height="12" fill="#ef5350"/>
<rect x="1210" y="524" width="3" height="7" fill="#ef5350"/>
<rect x="1214" y="518" width="1" height="13" fill="#26a69a"/>
<rect x="1213" y="521" width="3" height="10" fill="#26a69a"/>
<rect x="1217" y="519" width="1" height="9" fill="#26a69a"/>
<rect x="1216" y="523" width="3" height="2" fill="#26a69a"/>
<rect x="1221" y="505" width="1" height="22" fill="#26a69a"/>
<rect x="1220" y="509" width="3" height="15" fill="#26a69a"/>
<rect x="1224" y="505" width="1" height="18" fill="#ef5350"/>
<rect x="1223" y="509" width="3" height="14" fill="#ef5350"/>
<rect x="1227" y="517" width="1" height="11" fill="#26a69a"/>
<rect x="1226" y="521" width="3" height="1" fill="#26a69a"/>
<rect x="1230" y="517" width="1" height="9" fill="#ef5350"/>
<rect x="1229" y="521" width="3" height="5" fill="#ef5350"/>
<rect x="1233" y="522" width="1" height="4" fill="#26a69a"/>
<rect x="1232" y="522" width="3" height="4" fill="#26a69a"/>
<rect x="1236" y="515" width="1" height="7" fill="#26a69a"/>
<rect x="1235" y="519" width="3" height="3" fill="#26a69a"/>
<rect x="1239" y="516" width="1" height="16" fill="#ef5350"/>
<rect x="1238" y="520" width="3" height="7" fill="#ef5350"/>
<rect x="1242" y="521" width="1" height="6" fill="#26a69a"/>
<rect x="1241" y="523" width="3" height="4" fill="#26a69a"/>
<rect x="1245" y="523" width="1" height="5" fill="#ef5350"/>
<rect x="1244" y="523" width="3" height="5" fill="#ef5350"/>
<rect x="1248" y="525" width="1" height="3" fill="#26a69a"/>
<rect x="1247" y="525" width="3" height="3" fill="#26a69a"/>
<rect x="1251" y="526" width="1" height="7" fill="#ef5350"/>
<rect x="1250" y="526" width="3" height="6" fill="#ef5350"/>
<rect x="1254" y="524" width="1" height="11" fill="#26a69a"/>
<rect x="1253" y="526" width="3" height="4" fill="#26a69a"/>
<rect x="1257" y="521" width="1" height="5" fill="#26a69a"/>
<rect x="1256" y="521" width="3" height="5" fill="#26a69a"/>
<rect x="1260" y="517" width="1" height="6" fill="#ef5350"/>
<rect x="1259" y="520" width="3" height="1" fill="#ef5350"/>
<rect x="1263" y="516" width="1" height="9" fill="#26a69a"/>
<rect x="1262" y="518" width="3" height="5" fill="#26a69a"/>
<rect x="1266" y="511" width="1" height="7" fill="#26a69a"/>
<rect x="1265" y="514" width="3" height="4" fill="#26a69a"/>
<rect x="1269" y="515" width="1" height="13" fill="#ef5350"/>
<rect x="1268" y="515" width="3" height="13" fill="#ef5350"/>
<rect x="1273" y="521" width="1" height="9" fill="#26a69a"/>
<rect x="1272" y="525" width="3" height="3" fill="#26a69a"/>
<rect x="1276" y="520" width="1" height="6" fill="#26a69a"/>
<rect x="1275" y="520" width="3" height="6" fill="#26a69a"/>
<rect x="1279" y="509" width="1" height="11" fill="#26a69a"/>
<rect x="1278" y="515" width="3" height="5" fill="#26a69a"/>
<rect x="1282" y="513" width="1" height="5" fill="#ef5350"/>
<rect x="1281" y="515" width="3" height="1" fill="#ef5350"/>
<rect x="1285" y="510" width="1" height="7" fill="#26a69a"/>
<rect x="1284" y="510" width="3" height="7" fill="#26a69a"/>
<rect x="1288" y="506" width="1" height="5" fill="#26a69a"/>
<rect x="1287" y="506" width="3" height="5" fill="#26a69a"/>
<rect x="1291" y="498" width="1" height="16" fill="#26a69a"/>
<rect x="1290" y="503" width="3" height="5" fill="#26a69a"/>
<rect x="1294" y="477" width="1" height="36" fill="#26a69a"/>
<rect x="1293" y="487" width="3" height="17" fill="#26a69a"/>
<rect x="1297" y="483" width="1" height="16" fill="#ef5350"/>
<rect x="1296" y="487" width="3" height="7" fill="#ef5350"/>
<rect x="1300" y="482" width="1" height="14" fill="#ef5350"/>
<rect x="1299" y="493" width="3" height="2" fill="#ef5350"/>
<rect x="1303" y="492" width="1" height="10" fill="#ef5350"/>
<rect x="1302" y="493" width="3" height="7" fill="#ef5350"/>
<rect x="1306" y="496" width="1" height="11" fill="#ef5350"/>
<rect x="1305" y="499" width="3" height="8" fill="#ef5350"/>
<rect x="1309" y="506" width="1" height="13" fill="#ef5350"/>
<rect x="1308" y="506" width="3" height="13" fill="#ef5350"/>
<rect x="1312" y="518" width="1" height="6" fill="#ef5350"/>
<rect x="1311" y="518" width="3" height="6" fill="#ef5350"/>
<rect x="1315" y="515" width="1" height="11" fill="#26a69a"/>
<rect x="1314" y="515" width="3" height="8" fill="#26a69a"/>
<rect x="1318" y="514" width="1" height="11" fill="#ef5350"/>
<rect x="1317" y="514" width="3" height="11" fill="#ef5350"/>
<rect x="1321" y="507" width="1" height="22" fill="#26a69a"/>
<rect x="1320" y="512" width="3" height="13" fill="#26a69a"/>
<rect x="1324" y="499" width="1" height="26" fill="#ef5350"/>
<rect x="1323" y="513" width="3" height="5" fill="#ef5350"/>
<rect x="1328" y="457" width="1" height="65" fill="#26a69a"/>
<rect x="1327" y="462" width="3" height="60" fill="#26a69a"/>
<rect x="1331" y="432" width="1" height="40" fill="#26a69a"/>
<rect x="1330" y="436" width="3" height="36" fill="#26a69a"/>
<rect x="1334" y="412" width="1" height="38" fill="#ef5350"/>
<rect x="1333" y="419" width="3" height="19" fill="#ef5350"/>
<rect x="1337" y="422" width="1" height="15" fill="#26a69a"/>
<rect x="1336" y="432" width="3" height="3" fill="#26a69a"/>
<rect x="1340" y="425" width="1" height="10" fill="#ef5350"/>
<rect x="1339" y="430" width="3" height="2" fill="#ef5350"/>
<rect x="1343" y="424" width="1" height="6" fill="#26a69a"/>
<rect x="1342" y="424" width="3" height="6" fill="#26a69a"/>
<rect x="1346" y="426" width="1" height="11" fill="#ef5350"/>
<rect x="1345" y="426" width="3" height="7" fill="#ef5350"/>
<rect x="1349" y="419" width="1" height="15" fill="#26a69a"/>
<rect x="1348" y="422" width="3" height="12" fill="#26a69a"/>
<rect x="1352" y="409" width="1" height="13" fill="#26a69a"/>
<rect x="1351" y="409" width="3" height="13" fill="#26a69a"/>
<rect x="1355" y="408" width="1" height="12" fill="#ef5350"/>
<rect x="1354" y="408" width="3" height="12" fill="#ef5350"/>
<rect x="1358" y="419" width="1" height="5" fill="#ef5350"/>
<rect x="1357" y="419" width="3" height="5" fill="#ef5350"/>
<rect x="1361" y="418" width="1" height="5" fill="#26a69a"/>
<rect x="1360" y="418" width="3" height="5" fill="#26a69a"/>
<rect x="1364" y="418" width="1" height="12" fill="#ef5350"/>
<rect x="1363" y="418" width="3" height="8" fill="#ef5350"/>
<rect x="1367" y="419" width="1" height="7" fill="#26a69a"/>
<rect x="1366" y="419" width="3" height="7" fill="#26a69a"/>
<rect x="1370" y="412" width="1" height="7" fill="#26a69a"/>
<rect x="1369" y="412" width="3" height="7" fill="#26a69a"/>
<rect x="1373" y="376" width="1" height="37" fill="#26a69a"/>
<rect x="1372" y="376" width="3" height="37" fill="#26a69a"/>
<rect x="1376" y="364" width="1" height="21" fill="#26a69a"/>
<rect x="1375" y="374" width="3" height="2" fill="#26a69a"/>
<rect x="1379" y="369" width="1" height="17" fill="#ef5350"/>
<rect x="1378" y="375" width="3" height="10" fill="#ef5350"/>
<rect x="1383" y="374" width="1" height="11" fill="#26a69a"/>
<rect x="1382" y="378" width="3" height="7" fill="#26a69a"/>
<rect x="1386" y="371" width="1" height="10" fill="#26a69a"/>
<rect x="1385" y="376" width="3" height="3" fill="#26a69a"/>
<rect x="1389" y="366" width="1" height="12" fill="#26a69a"/>
<rect x="1388" y="368" width="3" height="10" fill="#26a69a"/>
<rect x="1392" y="368" width="1" height="6" fill="#ef5350"/>
<rect x="1391" y="368" width="3" height="6" fill="#ef5350"/>
<rect x="1395" y="364" width="1" height="8" fill="#26a69a"/>
<rect x="1394" y="368" width="3" height="4" fill="#26a69a"/>
<rect x="1398" y="361" width="1" height="7" fill="#26a69a"/>
<rect x="1397" y="364" width="3" height="4" fill="#26a69a"/>
<rect x="1401" y="356" width="1" height="13" fill="#ef5350"/>
<rect x="1400" y="363" width="3" height="5" fill="#ef5350"/>
<rect x="1404" y="361" width="1" height="7" fill="#26a69a"/>
<rect x="1403" y="363" width="3" height="5" fill="#26a69a"/>
<rect x="1407" y="346" width="1" height="19" fill="#26a69a"/>
<rect x="1406" y="346" width="3" height="19" fill="#26a69a"/>
<rect x="1410" y="340" width="1" height="14" fill="#26a69a"/>
<rect x="1409" y="340" width="3" height="5" fill="#26a69a"/>
<rect x="1413" y="339" width="1" height="15" fill="#ef5350"/>
<rect x="1412" y="339" width="3" height="15" fill="#ef5350"/>
<rect x="1416" y="353" width="1" height="4" fill="#ef5350"/>
<rect x="1415" y="353" width="3" height="4" fill="#ef5350"/>
<rect x="1419" y="345" width="1" height="12" fill="#26a69a"/>
<rect x="1418" y="345" width="3" height="12" fill="#26a69a"/>
<rect x="1422" y="320" width="1" height="28" fill="#26a69a"/>
<rect x="1421" y="322" width="3" height="24" fill="#26a69a"/>
<rect x="1425" y="322" width="1" height="9" fill="#ef5350"/>
<rect x="1424" y="322" width="3" height="9" fill="#ef5350"/>
<rect x="1428" y="331" width="1" height="50" fill="#ef5350"/>
<rect x="1427" y="331" width="3" height="50" fill="#ef5350"/>
<rect x="1431" y="381" width="1" height="3" fill="#26a69a"/>
<rect x="1430" y="381" width="3" height="1" fill="#26a69a"/>
</svg>
<div class="t" id="y580" style="left:1727px;top:71px;color:#b2b5be;font-weight:normal;-webkit-text-stroke:0.2px #b2b5be;transform:translate(0.68px,0.86px) scale(0.8587,0.9417)">58.00%</div>
<div class="t" id="y560" style="left:1727px;top:118px;color:#b2b5be;font-weight:normal;-webkit-text-stroke:0.2px #b2b5be;transform:translate(0.68px,0.86px) scale(0.8587,0.9417)">56.00%</div>
<div class="t" id="y540" style="left:1727px;top:167px;color:#b2b5be;font-weight:normal;-webkit-text-stroke:0.2px #b2b5be;transform:translate(0.68px,0.86px) scale(0.8587,0.9417)">54.00%</div>
<div class="t" id="y520" style="left:1727px;top:217px;color:#b2b5be;font-weight:normal;-webkit-text-stroke:0.2px #b2b5be;transform:translate(0.68px,0.86px) scale(0.8587,0.9417)">52.00%</div>
<div class="t" id="y500" style="left:1727px;top:270px;color:#b2b5be;font-weight:normal;-webkit-text-stroke:0.2px #b2b5be;transform:translate(0.68px,0.86px) scale(0.8587,0.9417)">50.00%</div>
<div class="t" id="y480" style="left:1728px;top:325px;color:#b2b5be;font-weight:normal;-webkit-text-stroke:0.2px #b2b5be;transform:translate(0.22px,0.86px) scale(0.8487,0.9417)">48.00%</div>
<div class="t" id="y440" style="left:1728px;top:442px;color:#b2b5be;font-weight:normal;-webkit-text-stroke:0.2px #b2b5be;transform:translate(0.22px,0.86px) scale(0.8487,0.9417)">44.00%</div>
<div class="t" id="y425" style="left:1728px;top:488px;color:#b2b5be;font-weight:normal;-webkit-text-stroke:0.2px #b2b5be;transform:translate(0.22px,0.86px) scale(0.8487,0.9417)">42.50%</div>
<div class="t" id="y410" style="left:1728px;top:537px;color:#b2b5be;font-weight:normal;-webkit-text-stroke:0.2px #b2b5be;transform:translate(0.22px,0.86px) scale(0.8487,0.9417)">41.00%</div>
<div class="t" id="y383" style="left:1727px;top:628px;color:#b2b5be;font-weight:normal;-webkit-text-stroke:0.2px #b2b5be;transform:translate(0.75px,0.86px) scale(0.8574,0.9417)">38.30%</div>
<div class="t" id="y372" style="left:1727px;top:667px;color:#b2b5be;font-weight:normal;-webkit-text-stroke:0.2px #b2b5be;transform:translate(0.75px,0.86px) scale(0.8574,0.9417)">37.20%</div>
<svg width="1813" height="778" viewBox="0 0 1813 778">
<path d="M1715 308h63a3 3 0 0 1 3 3v15a3 3 0 0 1 -3 3h-63z" fill="#ffffff"/>
<path d="M1715 583h63a3 3 0 0 1 3 3v15a3 3 0 0 1 -3 3h-63z" fill="#ffffff"/>
<path d="M1715 371h76a3 3 0 0 1 3 3v33a3 3 0 0 1 -3 3h-76z" fill="#26a69a"/>
<g transform="translate(12.8,747.1) scale(0.68)" fill="#d1d4dc"><path d="M14 22H7V11H0V4h14v18zM28 22h-8l7.5-18h8L28 22z"/><circle cx="20" cy="8" r="4"/></g>
</svg>
<div class="t" id="title0" style="left:12px;top:13px;color:#d1d4dc;font-weight:normal;-webkit-text-stroke:0.35px #d1d4dc;transform:translate(0.98px,0.21px) scale(0.9232,0.8917)">AnlTufan</div>
<div class="t" id="title1" style="left:75px;top:13px;color:#d1d4dc;font-weight:normal;-webkit-text-stroke:0.35px #d1d4dc;transform:translate(0.86px,0.21px) scale(0.9378,0.8917)">TradingView.com,</div>
<div class="t" id="title2" style="left:197px;top:13px;color:#d1d4dc;font-weight:normal;-webkit-text-stroke:0.35px #d1d4dc;transform:translate(0.71px,0.21px) scale(0.9152,0.8917)">Haz</div>
<div class="t" id="title3" style="left:228px;top:13px;color:#d1d4dc;font-weight:normal;-webkit-text-stroke:0.35px #d1d4dc;transform:translate(0.66px,0.21px) scale(0.8842,0.8917)">14,</div>
<div class="t" id="title4" style="left:252px;top:13px;color:#d1d4dc;font-weight:normal;-webkit-text-stroke:0.35px #d1d4dc;transform:translate(0.79px,0.21px) scale(0.8932,0.8917)">2022</div>
<div class="t" id="title5" style="left:290px;top:13px;color:#d1d4dc;font-weight:normal;-webkit-text-stroke:0.35px #d1d4dc;transform:translate(0.79px,0.21px) scale(0.9285,0.8917)">11:26</div>
<div class="t" id="title6" style="left:330px;top:13px;color:#d1d4dc;font-weight:normal;-webkit-text-stroke:0.35px #d1d4dc;transform:translate(0.80px,0.21px) scale(0.8477,0.8917)">UTC+3</div>
<div class="t" id="title7" style="left:379px;top:13px;color:#d1d4dc;font-weight:normal;-webkit-text-stroke:0.35px #d1d4dc;transform:translate(0.34px,0.21px) scale(0.9781,0.8917)">tarihinde</div>
<div class="t" id="title8" style="left:444px;top:13px;color:#d1d4dc;font-weight:normal;-webkit-text-stroke:0.35px #d1d4dc;transform:translate(0.98px,0.21px) scale(0.9395,0.8917)">yayınlandı</div>
<div class="t" id="leg0_0" style="left:21px;top:47px;color:#b2b5be;font-weight:normal;-webkit-text-stroke:0.25px #b2b5be;transform:translate(0.77px,0.63px) scale(0.9447,0.8667)">Market</div>
<div class="t" id="leg0_1" style="left:73px;top:47px;color:#b2b5be;font-weight:normal;-webkit-text-stroke:0.25px #b2b5be;transform:translate(0.09px,0.63px) scale(0.8661,0.8667)">Cap</div>
<div class="t" id="leg0_2" style="left:102px;top:47px;color:#b2b5be;font-weight:normal;-webkit-text-stroke:0.25px #b2b5be;transform:translate(0.86px,0.63px) scale(0.8330,0.8667)">BTC</div>
<div class="t" id="leg0_3" style="left:133px;top:47px;color:#b2b5be;font-weight:normal;-webkit-text-stroke:0.25px #b2b5be;transform:translate(0.70px,0.63px) scale(0.9274,0.8667)">Dominance,</div>
<div class="t" id="leg0_4" style="left:217px;top:47px;color:#b2b5be;font-weight:normal;-webkit-text-stroke:0.25px #b2b5be;transform:translate(0.76px,0.63px) scale(0.6692,0.8667)">%</div>
<div class="t" id="leg0_5" style="left:231px;top:47px;color:#b2b5be;font-weight:normal;-webkit-text-stroke:0.25px #b2b5be;transform:translate(0.75px,0.63px) scale(0.8139,0.8667)">(CALCULATED</div>
<div class="t" id="leg0_6" style="left:326px;top:47px;color:#b2b5be;font-weight:normal;-webkit-text-stroke:0.25px #b2b5be;transform:translate(0.27px,0.63px) scale(0.7974,0.8667)">BY</div>
<div class="t" id="leg0_7" style="left:348px;top:47px;color:#b2b5be;font-weight:normal;-webkit-text-stroke:0.25px #b2b5be;transform:translate(0.25px,0.63px) scale(0.8433,0.8667)">TRADINGVIEW),</div>
<div class="t" id="leg0_8" style="left:457px;top:47px;color:#b2b5be;font-weight:normal;-webkit-text-stroke:0.25px #b2b5be;transform:translate(0.01px,0.63px) scale(0.8913,0.8667)">1G,</div>
<div class="t" id="leg0_9" style="left:483px;top:47px;color:#b2b5be;font-weight:normal;-webkit-text-stroke:0.25px #b2b5be;transform:translate(0.97px,0.63px) scale(0.8004,0.8667)">CRYPTOCAP</div>
<div class="t" id="leg1" style="left:572px;top:47px;color:#b2b5be;font-weight:normal;-webkit-text-stroke-width:0.25px;transform:translate(0.00px,0.63px) scale(0.8396,0.8667)">A<span style="color:#26a69a">46.29%</span></div>
<div class="t" id="leg2" style="left:634px;top:47px;color:#b2b5be;font-weight:normal;-webkit-text-stroke-width:0.25px;transform:translate(0.69px,0.63px) scale(0.8501,0.8667)">Y<span style="color:#26a69a">46.31%</span></div>
<div class="t" id="leg3" style="left:698px;top:47px;color:#b2b5be;font-weight:normal;-webkit-text-stroke-width:0.25px;transform:translate(0.29px,0.63px) scale(0.8527,0.8667)">D<span style="color:#26a69a">46.20%</span></div>
<div class="t" id="leg4" style="left:762px;top:47px;color:#b2b5be;font-weight:normal;-webkit-text-stroke-width:0.25px;transform:translate(0.51px,0.63px) scale(0.8526,0.8667)">K<span style="color:#26a69a">46.30%</span></div>
<div class="t" id="leg5" style="left:826px;top:47px;color:#26a69a;font-weight:normal;-webkit-text-stroke-width:0.25px;transform:translate(0.57px,0.63px) scale(0.8715,0.8667)">−0.03% (−0.07%)</div>
<div class="t" id="m0" style="left:166px;top:709px;color:#b2b5be;font-weight:normal;-webkit-text-stroke:0.2px #b2b5be;transform:translate(0.95px,0.84px) scale(0.9128,0.9583)">May</div>
<div class="t" id="m1" style="left:354px;top:709px;color:#b2b5be;font-weight:normal;-webkit-text-stroke:0.2px #b2b5be;transform:translate(0.61px,0.84px) scale(0.9209,0.9583)">Tem</div>
<div class="t" id="m2" style="left:546px;top:709px;color:#b2b5be;font-weight:normal;-webkit-text-stroke:0.2px #b2b5be;transform:translate(0.81px,0.84px) scale(0.9252,0.9583)">Eyl</div>
<div class="t" id="m3" style="left:731px;top:709px;color:#b2b5be;font-weight:normal;-webkit-text-stroke:0.2px #b2b5be;transform:translate(0.86px,0.84px) scale(0.8739,0.9583)">Kas</div>
<div class="t" id="m4" style="left:912px;top:709px;color:#b2b5be;font-weight:bold;transform:translate(0.60px,0.84px) scale(0.9898,0.9583)">2022</div>
<div class="t" id="m5" style="left:1097px;top:709px;color:#b2b5be;font-weight:normal;-webkit-text-stroke:0.2px #b2b5be;transform:translate(0.77px,0.84px) scale(0.9422,0.9583)">Mar</div>
<div class="t" id="m6" style="left:1282px;top:709px;color:#b2b5be;font-weight:normal;-webkit-text-stroke:0.2px #b2b5be;transform:translate(0.96px,0.84px) scale(0.9128,0.9583)">May</div>
<div class="t" id="m7" style="left:1469px;top:709px;color:#b2b5be;font-weight:normal;-webkit-text-stroke:0.2px #b2b5be;transform:translate(0.61px,0.84px) scale(0.9209,0.9583)">Tem</div>
<div class="t" id="m8" style="left:1662px;top:709px;color:#b2b5be;font-weight:normal;-webkit-text-stroke:0.2px #b2b5be;transform:translate(0.81px,0.84px) scale(0.9252,0.9583)">Eyl</div>
<div class="t" id="brand" style="left:41px;top:749px;color:#d1d4dc;font-weight:normal;-webkit-text-stroke:0.3px #d1d4dc;transform:translate(0.75px,0.98px) scale(0.9982,0.9250)">TradingView</div>
<div class="t" id="lab1" style="left:1727px;top:311px;color:#131722;font-weight:normal;-webkit-text-stroke:0.15px #131722;transform:translate(0.85px,0.87px) scale(0.8624,0.9333)">48.51%</div>
<div class="t" id="lab2" style="left:1727px;top:586px;color:#131722;font-weight:normal;-webkit-text-stroke:0.15px #131722;transform:translate(0.43px,0.87px) scale(0.8702,0.9333)">39.54%</div>
<div class="t" id="lab3" style="left:1727px;top:375px;color:#ffffff;font-weight:normal;-webkit-text-stroke:0.45px #ffffff;transform:translate(0.84px,0.08px) scale(0.8579,0.9167)">46.30%</div>
<div class="t" id="lab4" style="left:1727px;top:393px;color:#c9e9e6;font-weight:normal;-webkit-text-stroke-width:0.2px;transform:translate(0.95px,0.30px) scale(0.9412,0.9000)">15:33:54</div>
</body></html>
